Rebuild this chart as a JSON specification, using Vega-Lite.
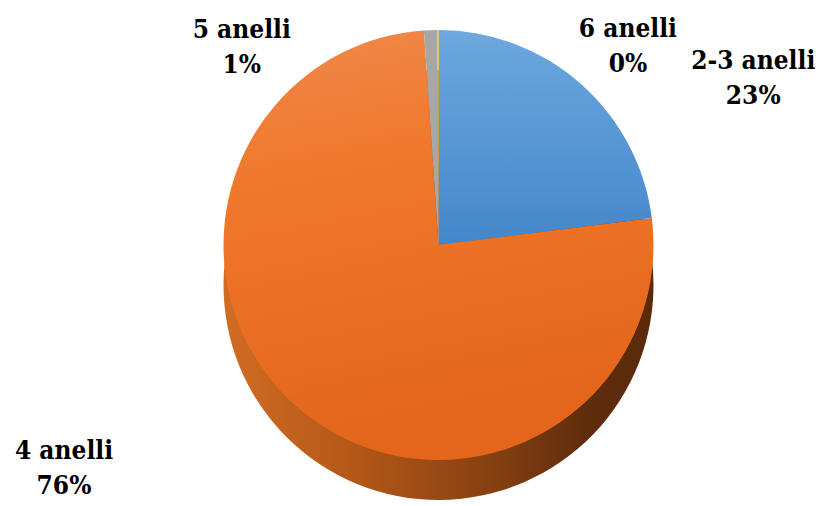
{
  "$schema": "https://vega.github.io/schema/vega-lite/v6.json",
  "width": 826,
  "height": 506,
  "autosize": {"type": "fit", "contains": "padding"},
  "padding": {"left": 40, "right": 0, "top": 24, "bottom": 0},
  "background": "white",
  "config": {"view": {"stroke": null}},
  "data": {
    "values": [
      {"cat": "2-3 anelli", "value": 23},
      {"cat": "4 anelli", "value": 75.92},
      {"cat": "5 anelli", "value": 1},
      {"cat": "6 anelli", "value": 0.08}
    ]
  },
  "layer": [
    {
      "description": "side wall of the disc",
      "mark": {
        "type": "arc",
        "outerRadius": 215,
        "yOffset": 20,
        "fill": {
          "gradient": "linear",
          "x1": 0, "y1": 0, "x2": 1, "y2": 0,
          "stops": [
            {"offset": 0, "color": "#d26c24"},
            {"offset": 0.3, "color": "#b45818"},
            {"offset": 0.6, "color": "#8a4211"},
            {"offset": 0.85, "color": "#5f2c0c"},
            {"offset": 1, "color": "#5a2a0b"}
          ]
        }
      },
      "encoding": {
        "theta": {"field": "value", "type": "quantitative", "stack": true}
      }
    },
    {
      "description": "top face of the disc",
      "mark": {"type": "arc", "outerRadius": 215, "yOffset": -20},
      "encoding": {
        "theta": {"field": "value", "type": "quantitative", "stack": true},
        "fill": {
          "condition": [
            {
              "test": "datum.cat === '2-3 anelli'",
              "value": {
                "gradient": "linear",
                "x1": 0, "y1": 0, "x2": 0, "y2": 1,
                "stops": [
                  {"offset": 0, "color": "#6da8de"},
                  {"offset": 1, "color": "#4387cb"}
                ]
              }
            },
            {
              "test": "datum.cat === '4 anelli'",
              "value": {
                "gradient": "linear",
                "x1": 0, "y1": 0, "x2": 0.2, "y2": 1,
                "stops": [
                  {"offset": 0, "color": "#ef8a4d"},
                  {"offset": 0.35, "color": "#f0782c"},
                  {"offset": 1, "color": "#e3661a"}
                ]
              }
            },
            {"test": "datum.cat === '5 anelli'", "value": "#a7a7a7"}
          ],
          "value": "#ffc000"
        }
      }
    },
    {
      "description": "data labels",
      "transform": [
        {"stack": "value", "groupby": [], "as": ["v0", "v1"]},
        {"calculate": "(datum.v0 + datum.v1) / 2", "as": "mid"},
        {"calculate": "datum.cat + '\\n' + format(datum.value, '.0f') + '%'", "as": "label"}
      ],
      "encoding": {
        "theta": {"field": "mid", "type": "quantitative", "stack": null},
        "text": {"field": "label", "type": "nominal"}
      },
      "layer": [
        {
          "transform": [{"filter": "datum.cat === '2-3 anelli'"}],
          "mark": {"type": "text", "radius": 240, "dx": 156, "dy": -37, "align": "center", "baseline": "top", "lineBreak": "\n", "lineHeight": 35, "font": "DejaVu Serif Condensed", "fontWeight": "bold", "fontSize": 26, "fill": "#000000"}
        },
        {
          "transform": [{"filter": "datum.cat === '4 anelli'"}],
          "mark": {"type": "text", "radius": 240, "dx": -222, "dy": -12, "align": "center", "baseline": "top", "lineBreak": "\n", "lineHeight": 35, "font": "DejaVu Serif Condensed", "fontWeight": "bold", "fontSize": 26, "fill": "#000000"}
        },
        {
          "transform": [{"filter": "datum.cat === '5 anelli'"}],
          "mark": {"type": "text", "radius": 240, "dx": -188, "dy": -8, "align": "center", "baseline": "top", "lineBreak": "\n", "lineHeight": 35, "font": "DejaVu Serif Condensed", "fontWeight": "bold", "fontSize": 26, "fill": "#000000"}
        },
        {
          "transform": [{"filter": "datum.cat === '6 anelli'"}],
          "mark": {"type": "text", "radius": 240, "dx": 190, "dy": -9, "align": "center", "baseline": "top", "lineBreak": "\n", "lineHeight": 35, "font": "DejaVu Serif Condensed", "fontWeight": "bold", "fontSize": 26, "fill": "#000000"}
        }
      ]
    }
  ]
}
